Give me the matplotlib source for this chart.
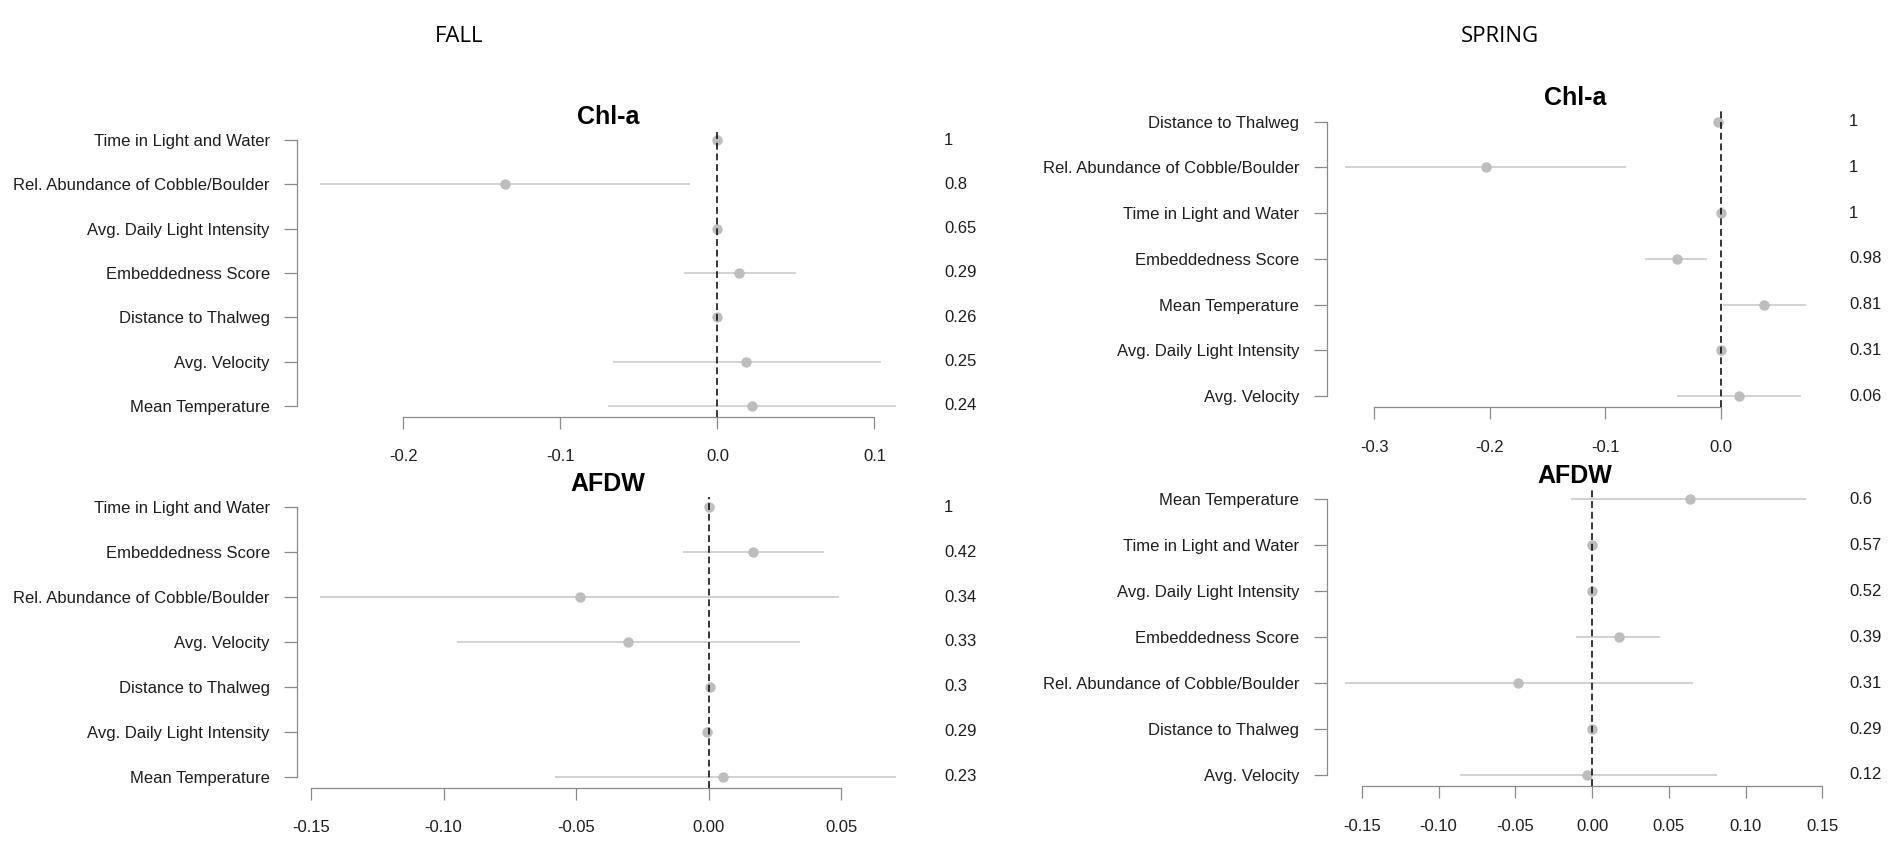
import matplotlib
matplotlib.use("Agg")
import matplotlib.pyplot as plt
from matplotlib.transforms import blended_transform_factory, offset_copy

plt.rcParams['font.family'] = ['Liberation Sans', 'DejaVu Sans']

# -------------------------
# Data (model-averaged coefficients)
# -------------------------
fall_chla_vars = ["Time in Light and Water", "Rel. Abundance of Cobble/Boulder",
                  "Avg. Daily Light Intensity", "Embeddedness Score",
                  "Distance to Thalweg", "Avg. Velocity", "Mean Temperature"]
fall_chla_est = [0.0, -0.1355, 0.0, 0.014, 0.0, 0.0185, 0.022]
fall_chla_lo = [0.0, -0.253, 0.0, -0.0215, 0.0, -0.0667, -0.0695]
fall_chla_hi = [0.0, -0.0177, 0.0, 0.050, 0.0, 0.104, 0.1137]
fall_chla_wt = ["1", "0.8", "0.65", "0.29", "0.26", "0.25", "0.24"]
fall_chla_ticks = [-0.2, -0.1, 0.0, 0.1]
fall_chla_ticklabels = ["-0.2", "-0.1", "0.0", "0.1"]

fall_afdw_vars = ["Time in Light and Water", "Embeddedness Score",
                  "Rel. Abundance of Cobble/Boulder", "Avg. Velocity",
                  "Distance to Thalweg", "Avg. Daily Light Intensity", "Mean Temperature"]
fall_afdw_est = [0.0, 0.0165, -0.0486, -0.0305, 0.0003, -0.0005, 0.0055]
fall_afdw_lo = [0.0, -0.0097, -0.1466, -0.0948, 0.0, 0.0, -0.058]
fall_afdw_hi = [0.0, 0.0435, 0.0492, 0.0343, 0.0, 0.0, 0.0706]
fall_afdw_wt = ["1", "0.42", "0.34", "0.33", "0.3", "0.29", "0.23"]
fall_afdw_ticks = [-0.15, -0.10, -0.05, 0.00, 0.05]
fall_afdw_ticklabels = ["-0.15", "-0.10", "-0.05", "0.00", "0.05"]

spring_chla_vars = ["Distance to Thalweg", "Rel. Abundance of Cobble/Boulder",
                    "Time in Light and Water", "Embeddedness Score",
                    "Mean Temperature", "Avg. Daily Light Intensity", "Avg. Velocity"]
spring_chla_est = [-0.0023, -0.2034, 0.0, -0.038, 0.037, 0.0, 0.0158]
spring_chla_lo = [-0.0023, -0.3256, 0.0, -0.066, 0.002, 0.0, -0.038]
spring_chla_hi = [-0.0023, -0.0819, 0.0, -0.0123, 0.0733, 0.0, 0.0695]
spring_chla_wt = ["1", "1", "1", "0.98", "0.81", "0.31", "0.06"]
spring_chla_ticks = [-0.3, -0.2, -0.1, 0.0]
spring_chla_ticklabels = ["-0.3", "-0.2", "-0.1", "0.0"]

spring_afdw_vars = ["Mean Temperature", "Time in Light and Water",
                    "Avg. Daily Light Intensity", "Embeddedness Score",
                    "Rel. Abundance of Cobble/Boulder", "Distance to Thalweg", "Avg. Velocity"]
spring_afdw_est = [0.0638, 0.0, 0.0, 0.0176, -0.048, 0.0, -0.0033]
spring_afdw_lo = [-0.0138, 0.0, 0.0, -0.0103, -0.161, 0.0, -0.086]
spring_afdw_hi = [0.139, 0.0, 0.0, 0.0444, 0.0658, 0.0, 0.0816]
spring_afdw_wt = ["0.6", "0.57", "0.52", "0.39", "0.31", "0.29", "0.12"]
spring_afdw_ticks = [-0.15, -0.10, -0.05, 0.00, 0.05, 0.10, 0.15]
spring_afdw_ticklabels = ["-0.15", "-0.10", "-0.05", "0.00", "0.05", "0.10", "0.15"]

# -------------------------
# Layout (plot regions in pixels: left, top, right, bottom)
# -------------------------
W, H = 1904, 842
boxes = {
    "fall_chla": (297, 129.4, 919, 416.6),
    "fall_afdw": (297, 496.5, 919, 787.5),
    "spring_chla": (1326.5, 110.7, 1824, 407),
    "spring_afdw": (1326.5, 488.3, 1824, 786),
}
title_pads = {"fall_chla": 3.5, "fall_afdw": 1.0, "spring_chla": 4.0, "spring_afdw": 1.0}

panels = [
    ("fall_chla", "Chl-a", fall_chla_vars, fall_chla_est, fall_chla_lo, fall_chla_hi,
     fall_chla_wt, fall_chla_ticks, fall_chla_ticklabels),
    ("fall_afdw", "AFDW", fall_afdw_vars, fall_afdw_est, fall_afdw_lo, fall_afdw_hi,
     fall_afdw_wt, fall_afdw_ticks, fall_afdw_ticklabels),
    ("spring_chla", "Chl-a", spring_chla_vars, spring_chla_est, spring_chla_lo, spring_chla_hi,
     spring_chla_wt, spring_chla_ticks, spring_chla_ticklabels),
    ("spring_afdw", "AFDW", spring_afdw_vars, spring_afdw_est, spring_afdw_lo, spring_afdw_hi,
     spring_afdw_wt, spring_afdw_ticks, spring_afdw_ticklabels),
]

AXIS_GREY = "#8a8a8a"
TEXT = "#1e1e1e"

fig = plt.figure(figsize=(W / 100, H / 100), dpi=100)

for key, title, names, est, lo, hi, wt, ticks, ticklabels in panels:
    l, t, r, b = boxes[key]
    ax = fig.add_axes([l / W, 1 - b / H, (r - l) / W, (b - t) / H])
    rows = list(range(1, len(names) + 1))

    # R-style 4% padding around the data range
    xmin, xmax = min(lo), max(hi)
    pad = 0.04 * (xmax - xmin)
    ax.set_xlim(xmin - pad, xmax + pad)
    ax.set_ylim(len(names) + 0.24, 0.76)

    ax.hlines(rows, lo, hi, color="#c6c6c6", lw=1.1, zorder=2)
    ax.plot(est, rows, "o", color="#bdbdbd", ms=7.5, mec="none", zorder=3)
    ax.axvline(0, color="black", lw=1.1, ls=(0, (4.5, 2.5)), zorder=4)

    for side in ("top", "right"):
        ax.spines[side].set_visible(False)
    ax.spines["left"].set_bounds(1, len(names))
    ax.spines["bottom"].set_bounds(ticks[0], ticks[-1])
    for side in ("left", "bottom"):
        ax.spines[side].set_color(AXIS_GREY)
        ax.spines[side].set_linewidth(0.9)

    ax.set_yticks(rows)
    ax.set_yticklabels(names)
    ax.set_xticks(ticks)
    ax.set_xticklabels(ticklabels)
    ax.tick_params(axis="y", length=9.7, width=0.9, color=AXIS_GREY, pad=10,
                   labelsize=12, labelcolor=TEXT)
    ax.tick_params(axis="x", length=8.6, width=0.9, color=AXIS_GREY, pad=15,
                   labelsize=12, labelcolor=TEXT)

    ax.set_title(title, fontsize=18, fontweight="bold", pad=title_pads[key])

    # model weights on the right
    trans = offset_copy(blended_transform_factory(ax.transAxes, ax.transData),
                        fig=fig, x=25, y=0, units="dots")
    for y, s in zip(rows, wt):
        ax.text(1.0, y, s, transform=trans, ha="left", va="center",
                fontsize=12, color=TEXT)

fig.text(459 / W, 1 - 36 / H, "FALL", ha="center", va="center", fontsize=16,
         family="Open Sans", color="black")
fig.text(1500 / W, 1 - 36 / H, "SPRING", ha="center", va="center", fontsize=16,
         family="Open Sans", color="black")

fig.savefig("out.png", dpi=100, facecolor="white")
